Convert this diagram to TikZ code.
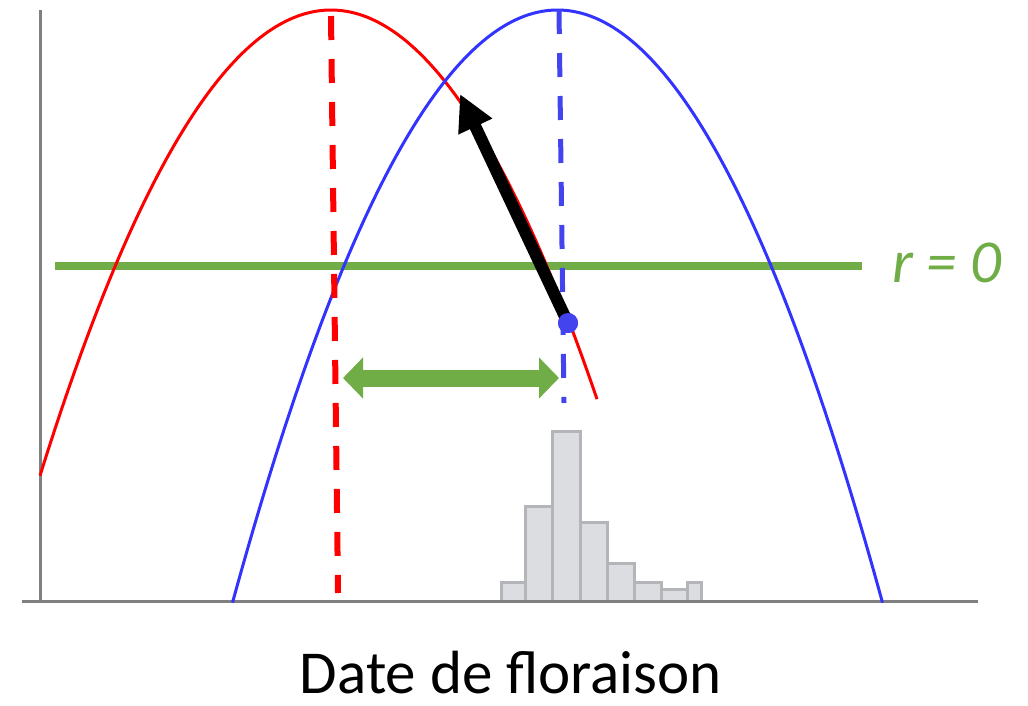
\documentclass[tikz,border=0pt]{standalone}
\usepackage{fontspec}
\setmainfont{Carlito}
\usetikzlibrary{arrows.meta}
\definecolor{axisgray}{RGB}{128,128,128}
\definecolor{ggreen}{RGB}{112,173,71}
\definecolor{cred}{RGB}{255,0,0}
\definecolor{cblue}{RGB}{51,51,255}
\definecolor{dblue}{RGB}{68,68,238}
\definecolor{histfill}{RGB}{220,221,224}
\definecolor{histline}{RGB}{180,181,185}
\begin{document}
\begin{tikzpicture}[x=1pt,y=-1pt,
  axisline/.style={draw=axisgray,line width=3pt},
  histbar/.style={draw=histline,fill=histfill,line width=3pt},
  curvered/.style={draw=cred,line width=3pt},
  curveblue/.style={draw=cblue,line width=3pt},
  dashred/.style={draw=cred,line width=6pt,dash pattern=on 24pt off 19pt},
  dashblue/.style={draw=dblue,line width=5pt,dash pattern=on 24pt off 19pt},
  rline/.style={draw=ggreen,line width=8pt},
  garrow/.style={draw=ggreen,line width=17pt,{Triangle[length=20pt,width=40pt]}-{Triangle[length=20pt,width=40pt]}},
  karrow/.style={draw=black,line width=12pt,-{Triangle[length=36pt,width=35pt]}},
  bdot/.style={circle,fill=dblue,inner sep=0pt,minimum size=20pt},
  lbl/.style={inner sep=0pt,font=\fontsize{61}{70}\selectfont}
]
\useasboundingbox (0,0) rectangle (1028,705);
% axes
\coordinate (ytop) at (40,10);
\coordinate (orig) at (40,601.5);
\coordinate (xleft) at (22,601.5);
\coordinate (xright) at (978,601.5);
% histogram
\foreach \a/\b/\c in {501/525/582,525/552/506,552/580/431,580/607/522,607/634/563,634/661/582,661/687/589,687/701/582}
  \draw[histbar] (\a,601) rectangle (\b,\c);
\draw[axisline] (ytop) -- (orig);
\draw[axisline] (xleft) -- (xright);
% green r = 0 line
\coordinate (gl0) at (55,266);
\coordinate (gr0) at (862,266);
\draw[rline] (gl0) -- (gr0);
% curves
\draw[curvered] plot[domain=40:597,samples=150] (\x,{10+(0.07416*(\x-331))^2});
\draw[curveblue] plot[domain=232.5:882.5,samples=180] (\x,{10+(0.07491*(\x-557.5))^2});
% dashed optimum lines
\coordinate (rt) at (331,16);
\coordinate (rb) at (338,593);
\coordinate (bt) at (559,10);
\coordinate (bb) at (564,403);
\draw[dashred] (rt) -- (rb);
\draw[dashblue] (bt) -- (bb);
% green double arrow
\coordinate (ga) at (343,378);
\coordinate (gb) at (559,378);
\draw[garrow] (ga) -- (gb);
% black arrow and dot
\node[bdot] (dot) at (568,323) {};
\coordinate (ktip) at (460,94);
\draw[karrow] (dot.center) -- (ktip);
\node[bdot] at (dot.center) {};
% labels
\node[lbl,text=ggreen,anchor=base] (rlab) at (947,282) {\itshape r = 0};
\node[lbl,anchor=base] (xlab) at (511,693) {Date de floraison};
\end{tikzpicture}
\end{document}
